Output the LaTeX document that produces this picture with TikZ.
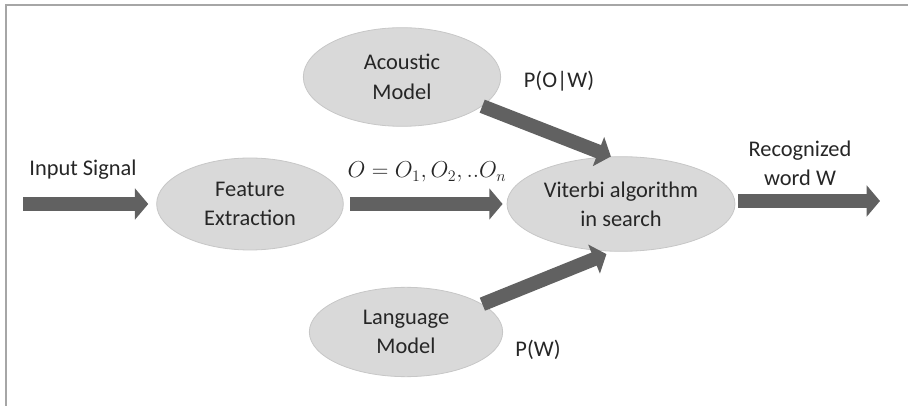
\documentclass[tikz,border=0pt]{standalone}
\usepackage{fontspec}
\setmainfont{Carlito}
\usetikzlibrary{arrows.meta,shapes.geometric}

\begin{document}
\begin{tikzpicture}[x=0.75pt, y=-0.75pt,
  every node/.style={font=\fontsize{16.8}{22}\selectfont, text=black!85, align=center},
  blob/.style={ellipse, draw=black!22, fill=black!15, line width=0.6pt, inner sep=0pt},
  fat/.style={draw=black!62, line width=10.5pt, -{Triangle[length=10pt, width=23pt]}}]
  % frame
  \useasboundingbox (0,0) rectangle (908,406);
  \draw[black!35, line width=1.5pt] (5.5,406) -- (5.5,5.5) -- (908,5.5);
  % ellipses
  \node[blob, minimum width=148pt, minimum height=74pt] (acoustic) at (402,77) {Acoustic\\Model};
  \node[blob, minimum width=140pt, minimum height=69pt] (feature) at (250,204) {Feature\\Extraction};
  \node[blob, minimum width=171pt, minimum height=71pt] (viterbi) at (621,204) {Viterbi algorithm\\in search};
  \node[blob, minimum width=145pt, minimum height=67pt] (language) at (406,332) {Language\\Model};
  % labels
  \node (insig) at (83,170) {Input Signal};
  \node (obs) at (427,172) {$O = O_1,O_2,..O_n$};
  \node (pow) at (559,81) {P(O|W)};
  \node (pw) at (538,350) {P(W)};
  \node (recog) at (800,163) {Recognized\\word W};
  \coordinate (src) at (23,204);
  \coordinate (out) at (880,201);
  % arrows
  \draw[fat, shorten >=6pt] (src) -- (feature.west);
  \draw[fat, shorten <=5pt, shorten >=3pt] (feature.east) -- (viterbi.west);
  \draw[fat, shorten <=2pt] (viterbi.east |- out) -- (out);
  \draw[fat] (acoustic.-20) -- (viterbi.102);
  \draw[fat, shorten >=5pt] (language.20) -- (viterbi.-100);
\end{tikzpicture}
\end{document}
